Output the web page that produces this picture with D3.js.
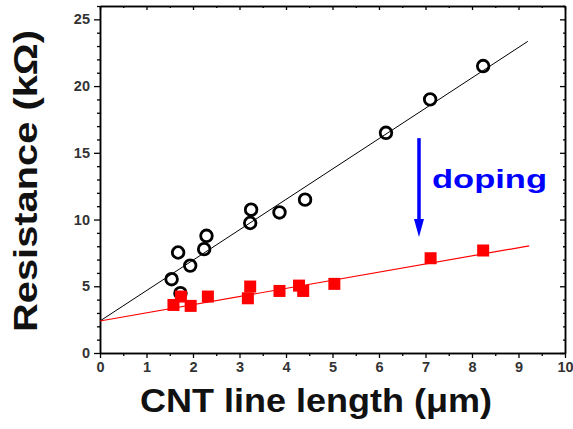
<!DOCTYPE html>
<html lang="en">
<head>
    <meta charset="UTF-8">
    <script src="https://d3js.org/d3.v7.min.js"></script>
    <title>CNT resistance</title>
    <style>
        body { margin: 0; background: #fff; }
        text { font-family: "Liberation Sans", Arial, sans-serif; }
    </style>
</head>
<body>
    <div id="chart"></div>

    <script type="text/javascript">
        const width = 573;
        const height = 429;
        const margin = { top: 6, right: 8, bottom: 76, left: 100 };

        // pristine CNT lines (open circles)
        const pristineLength = [1.54, 1.68, 1.73, 1.94, 2.24, 2.29, 3.23, 3.25, 3.86, 4.41, 6.15, 7.1, 8.24];
        const pristineR      = [5.53, 7.53, 4.48, 6.55, 7.78, 8.78, 9.74, 10.74, 10.53, 11.49, 16.5, 19.0, 21.5];

        // doped CNT lines (red squares)
        const dopedLength = [1.58, 1.74, 1.95, 2.32, 3.18, 3.23, 3.86, 4.28, 4.37, 5.04, 7.11, 8.24];
        const dopedR      = [3.6, 4.23, 3.53, 4.23, 4.1, 4.98, 4.65, 5.05, 4.65, 5.18, 7.1, 7.68];

        // linear fits: [x, y] end points
        const pristineFit = [[0, 2.4], [9.2, 23.35]];
        const dopedFit = [[0, 2.4], [9.23, 8.03]];

        const xTicks = [0, 1, 2, 3, 4, 5, 6, 7, 8, 9, 10];
        const yTicks = [0, 5, 10, 15, 20, 25];

        const svg = d3.select("#chart")
            .append("svg")
            .attr("width", width)
            .attr("height", height);

        const x = d3.scaleLinear().domain([0, 10]).range([margin.left, width - margin.right]);
        const y = d3.scaleLinear().domain([0, 26]).range([height - margin.bottom, margin.top]);

        const axisColor = "#000";
        const xMinor = d3.range(0.5, 10, 1);
        const yMinor = d3.range(0, 27, 1).filter(v => v % 5 !== 0);

        // bottom axis
        svg.append("g")
            .attr("transform", `translate(0, ${y(0)})`)
            .call(d3.axisBottom(x).tickValues(xTicks).tickSize(5).tickPadding(4).tickSizeOuter(0));
        svg.append("g")
            .attr("transform", `translate(0, ${y(0)})`)
            .call(d3.axisBottom(x).tickValues(xMinor).tickSize(3).tickFormat("").tickSizeOuter(0));

        // left axis
        svg.append("g")
            .attr("transform", `translate(${x(0)}, 0)`)
            .call(d3.axisLeft(y).tickValues(yTicks).tickSize(6).tickPadding(4).tickSizeOuter(0));
        svg.append("g")
            .attr("transform", `translate(${x(0)}, 0)`)
            .call(d3.axisLeft(y).tickValues(yMinor).tickSize(3).tickFormat("").tickSizeOuter(0));

        // top and right mirror axes (ticks pointing inward)
        svg.append("g")
            .attr("transform", `translate(0, ${margin.top})`)
            .call(d3.axisBottom(x).tickValues(xTicks).tickSize(4).tickFormat("").tickSizeOuter(0));
        svg.append("g")
            .attr("transform", `translate(0, ${margin.top})`)
            .call(d3.axisBottom(x).tickValues(xMinor).tickSize(2).tickFormat("").tickSizeOuter(0));
        svg.append("g")
            .attr("transform", `translate(${x(10)}, 0)`)
            .call(d3.axisLeft(y).tickValues(yTicks).tickSize(5).tickFormat("").tickSizeOuter(0));
        svg.append("g")
            .attr("transform", `translate(${x(10)}, 0)`)
            .call(d3.axisLeft(y).tickValues(yMinor).tickSize(2).tickFormat("").tickSizeOuter(0));

        svg.selectAll(".domain").attr("stroke", axisColor).attr("stroke-width", 1.5);
        svg.selectAll(".tick line").attr("stroke", axisColor).attr("stroke-width", 1.3);
        svg.selectAll(".tick text")
            .style("font-family", "'Liberation Sans', Arial, sans-serif")
            .style("font-size", "14.5px")
            .style("font-weight", "bold")
            .attr("fill", "#333");

        // fit lines
        const line = d3.line().x(d => x(d[0])).y(d => y(d[1]));

        svg.append("path")
            .datum(pristineFit)
            .attr("d", line)
            .attr("fill", "none")
            .attr("stroke", "#000")
            .attr("stroke-width", 1);

        svg.append("path")
            .datum(dopedFit)
            .attr("d", line)
            .attr("fill", "none")
            .attr("stroke", "#ff0000")
            .attr("stroke-width", 1.2);

        // pristine points
        svg.selectAll("circle.pristine")
            .data(d3.zip(pristineLength, pristineR))
            .enter()
            .append("circle")
            .attr("class", "pristine")
            .attr("cx", d => x(d[0]))
            .attr("cy", d => y(d[1]))
            .attr("r", 5.8)
            .attr("fill", "none")
            .attr("stroke", "#000")
            .attr("stroke-width", 2.8);

        // doped points
        const sq = 12;
        svg.selectAll("rect.doped")
            .data(d3.zip(dopedLength, dopedR))
            .enter()
            .append("rect")
            .attr("class", "doped")
            .attr("x", d => x(d[0]) - sq / 2)
            .attr("y", d => y(d[1]) - sq / 2)
            .attr("width", sq)
            .attr("height", sq)
            .attr("fill", "#ff0000");

        // doping arrow
        const arrowX = x(6.86);
        const arrowTop = y(16.1);
        const arrowTip = y(8.7);
        svg.append("line")
            .attr("x1", arrowX).attr("x2", arrowX)
            .attr("y1", arrowTop).attr("y2", arrowTip - 10)
            .attr("stroke", "#0000ff")
            .attr("stroke-width", 3.5);
        svg.append("path")
            .attr("d", `M${arrowX - 5},${arrowTip - 18} L${arrowX + 5},${arrowTip - 18} L${arrowX},${arrowTip} Z`)
            .attr("fill", "#0000ff");

        svg.append("text")
            .attr("x", 432)
            .attr("y", 188)
            .attr("textLength", 115)
            .attr("lengthAdjust", "spacingAndGlyphs")
            .style("font-size", "25px")
            .style("font-weight", "bold")
            .attr("fill", "#0000ff")
            .text("doping");

        // axis titles
        svg.append("text")
            .attr("x", 316)
            .attr("y", 412)
            .attr("text-anchor", "middle")
            .attr("textLength", 352)
            .attr("lengthAdjust", "spacingAndGlyphs")
            .style("font-size", "33px")
            .style("font-weight", "bold")
            .attr("fill", "#111")
            .text("CNT line length (μm)");

        svg.append("text")
            .attr("transform", "translate(37, 181) rotate(-90)")
            .attr("text-anchor", "middle")
            .attr("textLength", 302)
            .attr("lengthAdjust", "spacingAndGlyphs")
            .style("font-size", "33px")
            .style("font-weight", "bold")
            .attr("fill", "#111")
            .text("Resistance (kΩ)");
    </script>
</body>
</html>
